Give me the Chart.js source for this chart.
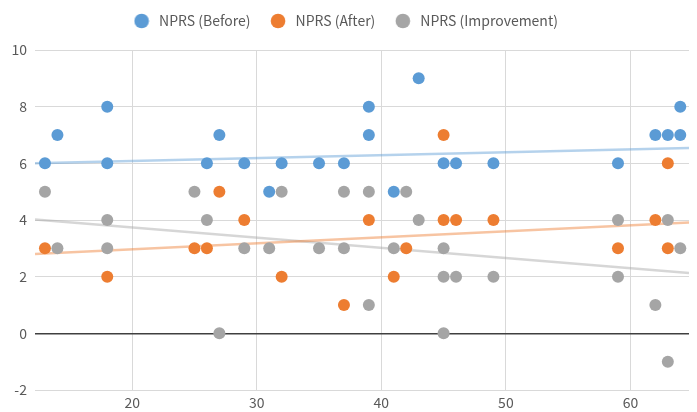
<!DOCTYPE html>
<html>
<head>
<meta charset="utf-8">
<script src="https://cdn.jsdelivr.net/npm/chart.js@4/dist/chart.umd.min.js"></script>
<style>
  html, body { margin: 0; padding: 0; background: #ffffff; }
  #wrap { width: 697px; height: 412px; position: relative; }
</style>
</head>
<body>
<div id="wrap"><canvas id="c"></canvas></div>
<script>
// NPRS scores by age
const beforeX = [13, 14, 18, 18, 26, 27, 29, 31, 32, 35, 37, 39, 39, 41, 43, 45, 46, 49, 59, 62, 63, 64, 64];
const beforeY = [6, 7, 8, 6, 6, 7, 6, 5, 6, 6, 6, 7, 8, 5, 9, 6, 6, 6, 6, 7, 7, 7, 8];

const afterX = [13, 18, 25, 26, 27, 29, 32, 37, 39, 41, 42, 45, 45, 46, 49, 59, 62, 63, 63];
const afterY = [3, 2, 3, 3, 5, 4, 2, 1, 4, 2, 3, 7, 4, 4, 4, 3, 4, 6, 3];

const improveX = [13, 14, 18, 18, 25, 26, 27, 29, 31, 32, 35, 37, 37, 39, 39, 41, 42, 43, 45, 45, 45, 46, 49, 59, 59, 62, 63, 63, 64];
const improveY = [5, 3, 4, 3, 5, 4, 0, 3, 3, 5, 3, 5, 3, 5, 1, 3, 5, 4, 3, 2, 0, 2, 2, 4, 2, 1, 4, -1, 3];

// linear trend values at the two ends of the x range
const xRange = [12.2, 64.7];
const trendBefore = [6.0, 6.54];
const trendAfter = [2.8, 3.91];
const trendImprove = [4.02, 2.13];

const seriesNames = ['NPRS (Before)', 'NPRS (After)', 'NPRS (Improvement)'];
const xTicks = [20, 30, 40, 50, 60];

const colors = ['#5B9BD5', '#ED7D31', '#A5A5A5'];
const trendColors = ['rgba(91,155,213,0.45)', 'rgba(237,125,49,0.45)', 'rgba(165,165,165,0.45)'];

const pts = (xs, ys) => xs.map((x, i) => ({ x: x, y: ys[i] }));

const pointSets = [pts(beforeX, beforeY), pts(afterX, afterY), pts(improveX, improveY)];
const trendSets = [trendBefore, trendAfter, trendImprove].map(t => pts(xRange, t));

// round legend markers drawn on small canvases
function dotMarker(color) {
  const cv = document.createElement('canvas');
  cv.width = 16; cv.height = 16;
  const g = cv.getContext('2d');
  g.fillStyle = color;
  g.beginPath();
  g.arc(8, 8, 7.3, 0, Math.PI * 2);
  g.fill();
  return cv;
}
const markers = colors.map(dotMarker);

const datasets = [];
pointSets.forEach((d, i) => {
  datasets.push({
    label: seriesNames[i],
    data: d,
    backgroundColor: colors[i],
    borderColor: colors[i],
    borderWidth: 0,
    pointRadius: 6,
    pointHoverRadius: 6,
    order: 0
  });
});
trendSets.forEach((d, i) => {
  datasets.push({
    label: 'trend' + i,
    data: d,
    showLine: true,
    borderColor: trendColors[i],
    borderWidth: 2.5,
    pointRadius: 0,
    fill: false,
    order: 1
  });
});

const FONT = "'Noto Sans CJK KR', 'Noto Sans', sans-serif";
Chart.defaults.font.family = FONT;
Chart.defaults.color = '#595959';

const chart = new Chart(document.getElementById('c'), {
  type: 'scatter',
  data: { datasets: datasets },
  options: {
    responsive: true,
    maintainAspectRatio: false,
    animation: false,
    events: [],
    layout: { padding: { left: 0, right: 8, top: -3, bottom: 0 } },
    plugins: {
      tooltip: { enabled: false },
      legend: {
        position: 'top',
        labels: {
          usePointStyle: true,
          pointStyleWidth: 21,
          boxHeight: 10,
          padding: 17,
          font: { size: 14, family: FONT },
          color: '#595959',
          generateLabels: ch => seriesNames.map((name, i) => ({
            text: name,
            datasetIndex: i,
            pointStyle: markers[i],
            fillStyle: colors[i],
            strokeStyle: colors[i],
            lineWidth: 0,
            fontColor: '#595959',
            hidden: false
          }))
        }
      }
    },
    scales: {
      x: {
        type: 'linear',
        min: xRange[0],
        max: xRange[1],
        afterBuildTicks: s => { s.ticks = xTicks.map(v => ({ value: v })); },
        afterFit: s => { s.height = 22; },
        grid: { color: '#d9d9d9', lineWidth: 1, drawTicks: false },
        border: { display: false },
        ticks: { padding: 4, font: { size: 14, family: FONT }, color: '#595959' }
      },
      y: {
        min: -2,
        max: 10,
        afterFit: s => { s.width = 35; },
        grid: {
          drawTicks: false,
          color: c => (c.tick && c.tick.value === 0) ? '#404040' : '#d9d9d9',
          lineWidth: c => (c.tick && c.tick.value === 0) ? 1.5 : 1
        },
        border: { display: false },
        ticks: { stepSize: 2, padding: 8, font: { size: 14, family: FONT }, color: '#595959' }
      }
    }
  }
});

// leave room between the legend row and the plot area
const baseFit = chart.legend.fit.bind(chart.legend);
chart.legend.fit = function () { baseFit(); this.height += 12; };
chart.update();
</script>
</body>
</html>
